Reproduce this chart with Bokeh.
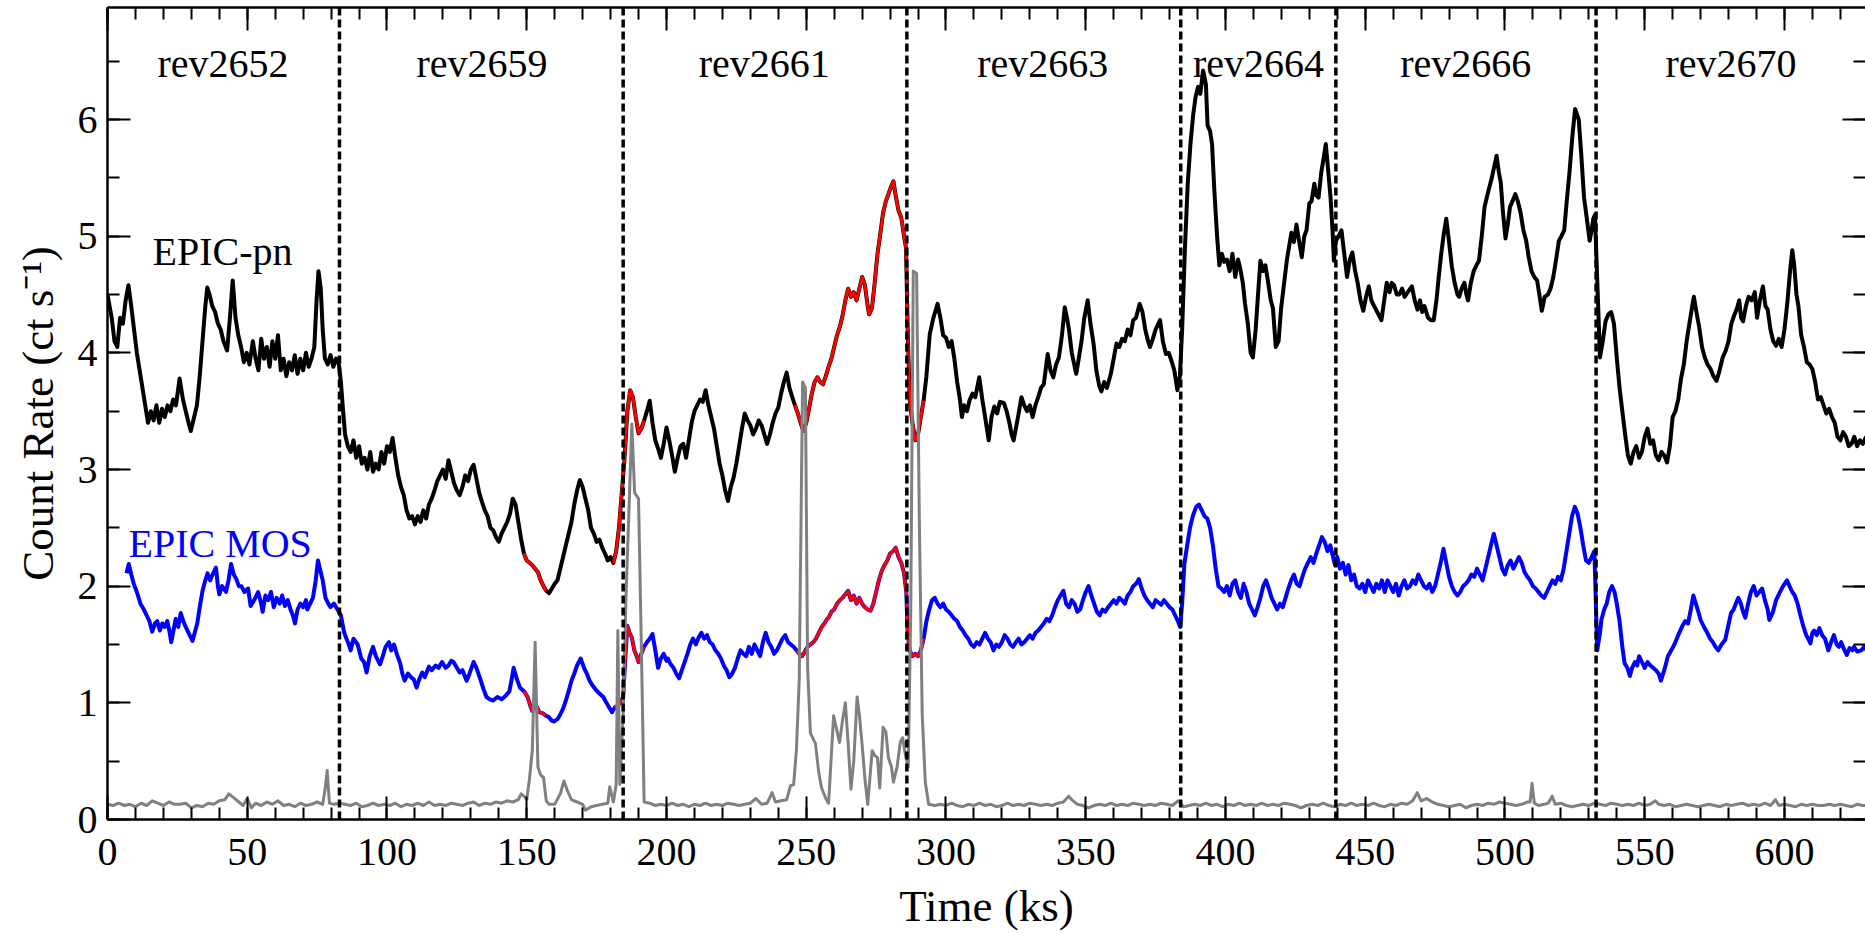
from bokeh.plotting import figure
from bokeh.models import (Range1d, LinearAxis, SingleIntervalTicker, Span, ColumnDataSource,
                          CustomJSTickFormatter)
from bokeh.embed import file_html
from bokeh.resources import INLINE
from bokeh.core.properties import value

FONT = "Liberation Serif"

# ---------------- data (time in ks, rate in ct/s) ----------------
obs_boundaries = [83.0, 184.5, 286.0, 384.0, 439.5, 532.6]
rev_names = ["rev2652", "rev2659", "rev2661", "rev2663", "rev2664", "rev2666", "rev2670"]
rev_centers = [41.3, 134.0, 235.0, 334.6, 411.8, 486.0, 580.9]
flare_intervals = [(149.0, 157.5), (181.0, 192.0), (246.0, 292.0)]

# EPIC-pn, one list of (time, rate) per observation
pn_rev2652 = [(0, 4.5), (1.5, 4.3), (2.5, 4.1), (3.5, 4.05), (4.5, 4.3), (5.5, 4.25), (6.5, 4.45), (7.5, 4.58),
              (8.5, 4.4), (9.5, 4.2), (10.5, 4.0), (11.5, 3.85), (12.5, 3.7), (13.5, 3.55), (14.5, 3.4), (15.5, 3.5),
              (16.5, 3.42), (17.5, 3.55), (18.5, 3.4), (19.5, 3.52), (20.5, 3.45), (21.5, 3.55), (22.5, 3.5),
              (23.5, 3.6), (24.5, 3.55), (25.8, 3.78), (27, 3.6), (28, 3.5), (29, 3.4), (29.8, 3.33), (31, 3.45),
              (32, 3.55), (33, 3.8), (34, 4.1), (35, 4.4), (35.7, 4.56), (36.5, 4.5), (37.5, 4.4), (38.5, 4.35),
              (39.5, 4.25), (40.5, 4.2), (41.5, 4.1), (42.8, 4.02), (43.8, 4.3), (44.8, 4.62), (45.8, 4.3),
              (46.8, 4.15), (47.8, 4.05), (48.8, 3.92), (49.8, 4.0), (50.8, 3.9), (52, 4.1), (53, 3.95), (54, 3.85),
              (55, 4.12), (56, 3.95), (57, 4.05), (58, 3.88), (59, 4.1), (60, 3.95), (61, 4.15), (62, 3.85),
              (63, 3.95), (64, 3.8), (65, 3.92), (66, 3.85), (67, 3.98), (68, 3.82), (69, 3.95), (70, 3.85),
              (71, 4.0), (72, 3.88), (73, 3.95), (74, 4.05), (74.8, 4.45), (75.5, 4.7), (76.3, 4.55), (77, 4.2),
              (77.8, 3.95), (78.8, 3.9), (79.8, 3.98), (80.8, 3.88), (81.8, 3.95), (82.8, 3.9)]
pn_rev2659 = [(83.5, 3.75), (84.3, 3.5), (85, 3.3), (86, 3.2), (87, 3.15), (88, 3.25), (89, 3.1), (90, 3.2),
              (91, 3.05), (92, 3.1), (93, 3.0), (94, 3.15), (95, 2.98), (96, 3.05), (97, 3.0), (98, 3.15),
              (99, 3.05), (100, 3.2), (101, 3.15), (102, 3.27), (103, 3.1), (104, 2.95), (105, 2.85), (106, 2.78),
              (107, 2.65), (108, 2.58), (109, 2.6), (110, 2.53), (111, 2.6), (112, 2.55), (113, 2.65), (114, 2.58),
              (115, 2.7), (116, 2.75), (117, 2.82), (118, 2.9), (119, 2.95), (120, 3.0), (121, 2.92), (122, 3.08),
              (123, 2.98), (124, 2.88), (125, 2.82), (126, 2.78), (127, 2.85), (128, 2.95), (129, 2.9), (130, 3.0),
              (131, 3.04), (132, 2.92), (133, 2.8), (134, 2.72), (135, 2.65), (136, 2.6), (137, 2.5), (138, 2.48),
              (139, 2.42), (140, 2.38), (141, 2.45), (142, 2.5), (143, 2.55), (144, 2.62), (145, 2.75), (146, 2.7),
              (147, 2.55), (148, 2.4), (149, 2.28), (150, 2.22), (151, 2.2), (152, 2.18), (153, 2.15), (154, 2.12),
              (155, 2.05), (156, 2.0), (157, 1.96), (158, 1.94), (159, 1.98), (160, 2.02), (161, 2.05), (162, 2.15),
              (163, 2.25), (164, 2.35), (165, 2.45), (166, 2.55), (167, 2.7), (168, 2.82), (169, 2.91), (170, 2.85),
              (171, 2.75), (172, 2.65), (173, 2.5), (174, 2.45), (175, 2.38), (176, 2.4), (177, 2.33), (178, 2.28),
              (179, 2.22), (180, 2.25), (181, 2.2), (182, 2.3), (183, 2.5), (184, 2.8)]
pn_rev2661 = [(185, 3.1), (186, 3.5), (187, 3.68), (188, 3.62), (189, 3.45), (190, 3.31), (191, 3.35), (192, 3.42),
              (193, 3.5), (194, 3.59), (195, 3.4), (196, 3.25), (197, 3.18), (198, 3.1), (199, 3.22), (200, 3.36),
              (201, 3.25), (202, 3.12), (203, 2.98), (204, 3.1), (205, 3.2), (206, 3.22), (207, 3.1), (208, 3.25),
              (209, 3.4), (210, 3.5), (211, 3.55), (212, 3.6), (213, 3.58), (214, 3.68), (215, 3.55), (216, 3.45),
              (217, 3.35), (218, 3.2), (219, 3.05), (220, 2.95), (221, 2.82), (222, 2.73), (223, 2.85), (224, 2.93),
              (225, 3.05), (226, 3.2), (227, 3.35), (228, 3.48), (229, 3.42), (230, 3.38), (231, 3.3), (232, 3.35),
              (233, 3.42), (234, 3.38), (235, 3.3), (236, 3.22), (237, 3.3), (238, 3.4), (239, 3.48), (240, 3.53),
              (241, 3.65), (242, 3.75), (243, 3.83), (244, 3.7), (245, 3.62), (246, 3.55), (247, 3.48), (248, 3.4),
              (249, 3.33), (250, 3.4), (251, 3.52), (252, 3.65), (253, 3.75), (254, 3.79), (255, 3.75), (256, 3.73),
              (257, 3.8), (258, 3.88), (259, 3.95), (260, 4.05), (261, 4.15), (262, 4.22), (263, 4.32), (264, 4.45),
              (265, 4.55), (266, 4.48), (267, 4.52), (268, 4.45), (269, 4.55), (270, 4.65), (271, 4.58), (272, 4.4),
              (272.5, 4.33), (273.5, 4.38), (274.5, 4.6), (275.5, 4.85), (276.5, 5.02), (277.5, 5.2), (278.5, 5.3),
              (279.4, 5.36), (280.3, 5.42), (281.2, 5.47), (282, 5.35), (283, 5.22), (284, 5.16), (285, 5.0),
              (285.7, 4.9)]
pn_rev2663 = [(286.3, 4.2), (287, 3.6), (288, 3.4), (289, 3.25), (290, 3.3), (291, 3.45), (292, 3.59), (293, 3.8),
              (294.2, 4.16), (295.5, 4.3), (297, 4.42), (298, 4.3), (299, 4.15), (300, 4.13), (301, 4.05),
              (302, 4.1), (303, 3.95), (304, 3.75), (305, 3.6), (305.7, 3.45), (306.5, 3.55), (307.5, 3.5),
              (308.4, 3.59), (309.5, 3.65), (310.5, 3.62), (311.9, 3.79), (313, 3.6), (314, 3.45), (315.3, 3.25),
              (316.3, 3.45), (317.3, 3.54), (318.3, 3.48), (319.3, 3.58), (320.7, 3.57), (321.7, 3.5), (322.7, 3.4),
              (323.5, 3.3), (324.2, 3.25), (325, 3.35), (326, 3.48), (327, 3.62), (328, 3.55), (329, 3.5),
              (330, 3.55), (331, 3.45), (332, 3.55), (333, 3.62), (334, 3.7), (335, 3.73), (336.4, 3.99),
              (337.4, 3.85), (338.4, 3.79), (339.4, 3.9), (340.4, 3.96), (341.5, 4.15), (342.5, 4.39), (343.3, 4.3),
              (344, 4.2), (345, 4.0), (346.6, 3.82), (347.5, 3.95), (348.5, 4.1), (349.5, 4.3), (350.7, 4.45),
              (351.7, 4.25), (352.8, 4.08), (353.8, 3.85), (354.8, 3.72), (355.6, 3.67), (356.6, 3.75), (357.6, 3.7),
              (359, 3.82), (360, 3.95), (361, 4.08), (362, 4.05), (363, 4.12), (364, 4.1), (365, 4.2), (366, 4.15),
              (367, 4.28), (368, 4.3), (369.3, 4.42), (370.3, 4.35), (371.3, 4.2), (372.3, 4.1), (373, 4.05),
              (374, 4.12), (375, 4.2), (376.6, 4.28), (377.6, 4.1), (378.7, 3.99), (379.7, 4.0), (380.7, 3.93),
              (381.7, 3.85), (382.8, 3.68), (383.7, 3.8)]
pn_rev2664 = [(384.5, 4.2), (385.5, 4.9), (386.5, 5.45), (387.5, 5.8), (388.5, 6.05), (389.3, 6.19), (390.2, 6.28),
              (391, 6.22), (392, 6.42), (393, 6.3), (393.6, 5.95), (394.5, 5.9), (395.2, 5.79), (396, 5.4),
              (397, 5.0), (397.8, 4.75), (398.7, 4.85), (399.5, 4.78), (400.5, 4.8), (401.5, 4.7), (402.5, 4.85),
              (403.5, 4.65), (404.5, 4.8), (405.3, 4.72), (406.2, 4.6), (407, 4.42), (408, 4.25), (409, 4.0),
              (409.8, 3.96), (410.8, 4.2), (411.8, 4.55), (412.5, 4.79), (413.5, 4.7), (414.3, 4.75), (415.3, 4.6),
              (416.2, 4.45), (417, 4.38), (418, 4.05), (419, 4.1), (419.9, 4.38), (421, 4.6), (422, 4.8),
              (423.6, 5.03), (424.5, 4.95), (425.4, 5.1), (426.4, 4.95), (427.3, 4.82), (428.2, 5.0), (429, 5.05),
              (430, 5.28), (430.8, 5.3), (431.8, 5.45), (432.5, 5.35), (433.3, 5.33), (434.3, 5.55), (435.2, 5.68),
              (435.9, 5.79), (436.8, 5.55), (437.6, 5.33), (438.3, 5.05), (438.8, 4.79), (439.5, 4.96)]
pn_rev2666 = [(440.5, 5.0), (441.5, 5.05), (442.5, 4.85), (443.5, 4.65), (444.5, 4.8), (445.4, 4.86), (446.4, 4.7),
              (447.3, 4.6), (448.3, 4.45), (449.3, 4.36), (450.3, 4.48), (451.3, 4.57), (452.2, 4.45), (453.2, 4.4),
              (454.3, 4.35), (455.8, 4.28), (456.8, 4.45), (457.7, 4.6), (458.7, 4.52), (459.5, 4.6), (460.3, 4.58),
              (461.3, 4.5), (462.2, 4.5), (463.2, 4.55), (464.1, 4.48), (465.2, 4.52), (466.7, 4.57), (467.7, 4.45),
              (468.7, 4.37), (469.6, 4.45), (470.4, 4.35), (471.2, 4.4), (472.5, 4.3), (473.5, 4.28), (474.5, 4.28),
              (475.5, 4.45), (476.3, 4.65), (477.2, 4.85), (478, 5.0), (479, 5.15), (480, 4.95), (481, 4.74),
              (482, 4.6), (483, 4.5), (483.6, 4.48), (484.5, 4.55), (485.5, 4.6), (486.2, 4.5), (486.8, 4.45),
              (487.8, 4.6), (488.8, 4.7), (489.8, 4.75), (490.7, 4.79), (491.7, 5.0), (492.7, 5.25), (494, 5.38),
              (495.3, 5.5), (496.2, 5.6), (497, 5.69), (497.8, 5.55), (498.5, 5.46), (499.3, 5.2), (500.2, 4.98),
              (501, 5.1), (501.8, 5.25), (502.7, 5.3), (503.7, 5.36), (504.6, 5.3), (505.6, 5.2), (506.6, 5.05),
              (507.6, 4.96), (508.5, 4.82), (509.5, 4.7), (510.5, 4.65), (511.5, 4.62), (512.3, 4.5), (513.2, 4.36),
              (514.2, 4.48), (515.4, 4.5), (516.3, 4.55), (517.3, 4.65), (518.3, 4.8), (519.3, 4.96), (520.2, 5.0),
              (521.2, 5.05), (522.1, 5.3), (523.1, 5.55), (524.1, 5.85), (525.1, 6.09), (526.4, 6.0), (527.3, 5.7),
              (528.3, 5.33), (529.3, 5.15), (530.3, 4.96), (531, 5.05), (531.6, 5.15), (532.2, 5.18)]
pn_rev2670 = [(533.2, 4.5), (534, 3.96), (535, 4.1), (536, 4.27), (537, 4.33), (538, 4.35), (539, 4.25), (540, 3.96),
              (541, 3.7), (542, 3.5), (543, 3.3), (544, 3.12), (545, 3.05), (546, 3.15), (547, 3.2), (548, 3.1),
              (549, 3.15), (550, 3.28), (551, 3.35), (552, 3.22), (553, 3.25), (554, 3.12), (555, 3.08), (556, 3.15),
              (557, 3.12), (558, 3.06), (559, 3.2), (560, 3.45), (561, 3.5), (562, 3.6), (563, 3.78), (564, 3.9),
              (565, 4.1), (566, 4.25), (567, 4.4), (567.6, 4.48), (568.5, 4.35), (569.5, 4.22), (570.5, 4.05),
              (571.5, 3.96), (572.5, 3.9), (573.6, 3.86), (574.6, 3.8), (575.7, 3.76), (576.8, 3.85), (577.9, 3.96),
              (579, 4.02), (580, 4.1), (581, 4.25), (582, 4.32), (583, 4.38), (583.8, 4.45), (584.5, 4.3),
              (585.2, 4.27), (586.2, 4.4), (587.2, 4.48), (588.3, 4.45), (589.4, 4.52), (590.2, 4.3), (591.2, 4.45),
              (592.3, 4.57), (593.2, 4.4), (594, 4.37), (595, 4.2), (596, 4.1), (597, 4.06), (598, 4.12), (599, 4.05),
              (600, 4.2), (601, 4.42), (602, 4.7), (602.8, 4.88), (603.5, 4.75), (604.3, 4.5), (605, 4.4),
              (606, 4.15), (607, 4.05), (608, 3.92), (609, 3.9), (610, 3.86), (611, 3.75), (612, 3.6), (613, 3.62),
              (614, 3.55), (615, 3.48), (616, 3.52), (617, 3.45), (618, 3.4), (619, 3.28), (620, 3.25), (621, 3.32),
              (622, 3.28), (623, 3.2), (624, 3.22), (625, 3.28), (626, 3.2), (627, 3.25), (628, 3.22), (629, 3.27),
              (630, 3.3)]

# EPIC MOS
mos_rev2652 = [(6.8, 2.11), (7.6, 2.19), (8.5, 2.1), (9.4, 2.02), (10.5, 1.95), (11.8, 1.85), (13, 1.8), (14.2, 1.74),
               (15, 1.7), (16, 1.61), (17, 1.68), (17.8, 1.7), (18.7, 1.62), (19.6, 1.68), (20.5, 1.65), (21.4, 1.7),
               (22.1, 1.62), (22.8, 1.52), (23.6, 1.62), (24.4, 1.72), (25.3, 1.65), (26.2, 1.77), (27.1, 1.7),
               (28, 1.65), (29, 1.6), (30.4, 1.53), (31.2, 1.6), (32.1, 1.68), (33, 1.82), (34, 1.96), (35, 2.05),
               (35.8, 2.11), (36.7, 2.05), (37.6, 2.1), (38.8, 2.16), (39.5, 2.0), (40, 1.93), (41, 2.0), (42.4, 1.95),
               (43.3, 2.05), (44.2, 2.19), (45.2, 2.1), (46.1, 2.06), (47, 2.0), (47.9, 2.0), (49, 1.95), (50.3, 1.98),
               (51.2, 1.83), (52.7, 1.89), (53.9, 1.95), (55, 1.85), (55.5, 1.78), (56.5, 1.92), (57.5, 1.88),
               (58.5, 1.95), (59.5, 1.82), (60.5, 1.9), (61.6, 1.85), (62.5, 1.92), (63.5, 1.83), (64.5, 1.88),
               (65.5, 1.8), (66.3, 1.75), (67.1, 1.68), (68, 1.8), (69, 1.85), (70, 1.82), (71, 1.88), (71.5, 1.8),
               (72.5, 1.85), (73.5, 1.9), (74.5, 2.05), (75.3, 2.22), (76, 2.15), (77, 2.05), (78, 1.9), (79, 1.85),
               (79.8, 1.82), (81, 1.85), (82.3, 1.8)]
mos_rev2659 = [(83.5, 1.75), (84.7, 1.6), (85.5, 1.55), (86.2, 1.51), (87, 1.45), (88, 1.55), (89.5, 1.5),
               (90.8, 1.38), (91.8, 1.35), (92.7, 1.26), (93.8, 1.4), (95, 1.48), (96, 1.4), (97.5, 1.33), (98.5, 1.4),
               (99.5, 1.48), (100.7, 1.52), (101.5, 1.45), (102.5, 1.5), (103.5, 1.42), (104.7, 1.34), (105.5, 1.25),
               (106.3, 1.19), (107.5, 1.25), (108.6, 1.22), (109.6, 1.2), (110.6, 1.13), (111.5, 1.2), (112.6, 1.26),
               (113.5, 1.22), (115, 1.31), (116, 1.28), (117.4, 1.32), (118.5, 1.3), (119.7, 1.35), (121, 1.3),
               (122, 1.32), (123, 1.36), (123.8, 1.35), (125, 1.3), (126, 1.26), (127, 1.28), (128.5, 1.19),
               (129.5, 1.25), (131, 1.35), (132, 1.3), (133.3, 1.21), (134.5, 1.12), (135.6, 1.05), (136.8, 1.03),
               (138, 1.02), (139.5, 1.05), (141, 1.03), (142.5, 1.06), (143.8, 1.1), (144.6, 1.2), (145.3, 1.3),
               (146.5, 1.2), (147.6, 1.13), (149, 1.1), (150.3, 1.05), (151.2, 0.98), (152, 0.93), (153, 0.99),
               (153.5, 0.97), (154.5, 0.92), (155.8, 0.91), (156.8, 0.89), (157.8, 0.88), (158.8, 0.85),
               (159.7, 0.84), (161, 0.86), (162, 0.9), (163, 0.95), (164, 1.02), (165, 1.1), (166, 1.19),
               (167, 1.25), (168, 1.32), (169.3, 1.38), (170.5, 1.3), (171.5, 1.25), (172.5, 1.19), (173.5, 1.15),
               (174.8, 1.11), (176, 1.08), (177.4, 1.05), (178.5, 1.0), (179.5, 0.96), (180.5, 0.92), (181.5, 0.96),
               (182.8, 0.98), (183.8, 1.02), (184.5, 1.05)]
mos_rev2661 = [(185.3, 1.4), (186, 1.66), (186.8, 1.6), (187.6, 1.56), (188.5, 1.45), (189.3, 1.4), (190, 1.35),
               (191, 1.42), (192, 1.48), (193, 1.52), (194, 1.55), (195, 1.59), (196, 1.45), (197, 1.3), (198, 1.38),
               (199, 1.42), (200, 1.36), (200.5, 1.38), (201.5, 1.33), (202.5, 1.3), (203.5, 1.25), (204.5, 1.21),
               (205.5, 1.28), (206.5, 1.35), (207.5, 1.42), (208.5, 1.5), (209.5, 1.55), (210.5, 1.5), (211.5, 1.56),
               (212.5, 1.6), (213.5, 1.55), (214.5, 1.58), (215.5, 1.52), (216.5, 1.5), (217.5, 1.45), (218.5, 1.42),
               (219.5, 1.38), (220.5, 1.32), (221.5, 1.28), (222.5, 1.22), (223.5, 1.25), (224.5, 1.3), (225.5, 1.38),
               (226.5, 1.45), (227.5, 1.42), (228.5, 1.4), (229.5, 1.48), (230.5, 1.42), (231.5, 1.5), (232.5, 1.45),
               (233.5, 1.4), (234.5, 1.52), (235.5, 1.6), (236.5, 1.52), (237.5, 1.48), (238.5, 1.42), (239.5, 1.45),
               (240.5, 1.5), (241.5, 1.55), (242.5, 1.58), (243.5, 1.52), (244.5, 1.5), (245.5, 1.48), (246.5, 1.45),
               (247.5, 1.42), (248.5, 1.4), (249.5, 1.44), (250.5, 1.48), (251.5, 1.5), (252.5, 1.52), (253.5, 1.55),
               (254.5, 1.6), (255.5, 1.65), (256.5, 1.68), (257.5, 1.72), (258, 1.73), (259, 1.78), (260, 1.8),
               (261, 1.85), (262, 1.88), (263, 1.9), (264, 1.93), (265, 1.96), (266, 1.88), (267, 1.92), (268, 1.85),
               (269, 1.9), (270, 1.85), (271, 1.82), (272, 1.8), (273, 1.79), (274, 1.85), (275, 1.95), (276, 2.05),
               (277, 2.13), (278, 2.18), (279, 2.22), (280, 2.28), (281, 2.3), (282, 2.33), (283, 2.25), (284, 2.2),
               (285, 2.11), (285.8, 1.95)]
mos_rev2663 = [(286.3, 1.6), (287, 1.45), (288, 1.4), (289, 1.42), (290, 1.4), (291, 1.45), (292, 1.55), (293, 1.7),
               (294, 1.8), (295, 1.88), (296, 1.9), (297, 1.85), (298, 1.82), (299, 1.85), (300, 1.8), (301, 1.78),
               (302, 1.75), (303, 1.72), (304, 1.7), (305, 1.65), (306, 1.62), (307, 1.58), (308, 1.55), (309, 1.5),
               (310, 1.48), (311, 1.52), (312, 1.5), (313, 1.55), (314, 1.6), (315, 1.55), (316, 1.52), (317, 1.45),
               (318, 1.5), (319, 1.48), (320, 1.52), (321, 1.58), (322, 1.55), (323, 1.5), (324, 1.48), (325, 1.52),
               (326, 1.55), (327, 1.5), (328, 1.52), (329, 1.55), (330, 1.58), (331, 1.55), (332, 1.6), (333, 1.62),
               (334, 1.65), (335, 1.68), (336, 1.72), (337, 1.7), (338, 1.75), (339, 1.82), (340, 1.88), (341, 1.92),
               (342, 1.96), (343, 1.85), (344, 1.82), (345, 1.88), (346, 1.85), (347, 1.78), (348, 1.8), (349, 1.88),
               (350, 1.95), (351, 2.0), (352, 1.92), (353, 1.85), (354, 1.78), (355, 1.75), (356, 1.8), (357, 1.78),
               (358, 1.82), (359, 1.85), (360, 1.88), (361, 1.85), (362, 1.9), (363, 1.88), (364, 1.85), (365, 1.92),
               (366, 1.95), (367, 2.0), (368, 2.02), (369, 2.06), (370, 1.98), (371, 1.92), (372, 1.88), (373, 1.85),
               (374, 1.82), (375, 1.88), (376, 1.86), (377, 1.84), (378, 1.88), (379, 1.85), (380, 1.82), (381, 1.8),
               (382, 1.75), (383, 1.7), (383.8, 1.65)]
mos_rev2664 = [(384.5, 1.85), (385.3, 2.19), (386.3, 2.35), (387.3, 2.5), (388.3, 2.6), (389.5, 2.68), (390.5, 2.7),
               (391.5, 2.65), (392.5, 2.6), (393.5, 2.58), (394.5, 2.5), (395.5, 2.35), (396.5, 2.15), (397.5, 2.0),
               (398.5, 1.98), (399.5, 1.95), (400.5, 2.0), (401.5, 1.92), (402.5, 2.02), (403.5, 2.05), (404.5, 1.95),
               (405.5, 1.9), (406.5, 2.02), (407.5, 1.95), (408.5, 1.85), (409.5, 1.8), (410.5, 1.75), (411.5, 1.82),
               (412.5, 1.9), (413.5, 2.0), (414.5, 2.05), (415.5, 1.98), (416.5, 1.9), (417.5, 1.85), (418.5, 1.8),
               (419.5, 1.85), (420.5, 1.82), (421.5, 1.9), (422.5, 1.98), (423.5, 2.05), (424.5, 2.1), (425.5, 2.02),
               (426.5, 2.0), (427.5, 2.08), (428.5, 2.15), (429.5, 2.2), (430.5, 2.25), (431.5, 2.2), (432.5, 2.28),
               (433.5, 2.35), (434.5, 2.42), (435.5, 2.38), (436.5, 2.3), (437.5, 2.35), (438.5, 2.25), (439.2, 2.18)]
mos_rev2666 = [(440, 2.25), (441, 2.15), (442, 2.2), (443, 2.1), (444, 2.18), (445, 2.05), (446, 2.1), (447, 2.0),
               (448, 1.98), (449, 2.02), (450, 1.95), (451, 2.05), (452, 2.0), (453, 1.95), (454, 2.02), (455, 1.98),
               (456, 2.05), (457, 1.95), (458, 2.05), (459, 2.0), (460, 1.95), (461, 2.02), (462, 1.92), (463, 2.0),
               (464, 2.05), (465, 1.98), (466, 2.0), (467, 2.05), (468, 2.02), (469, 2.1), (470, 2.05), (471, 2.0),
               (472, 1.98), (473, 2.02), (474, 1.95), (475, 2.0), (476, 2.1), (477, 2.2), (478, 2.32), (479, 2.2),
               (480, 2.08), (481, 2.0), (482, 1.95), (483, 1.92), (484, 1.95), (485, 2.0), (486, 2.02), (487, 2.05),
               (488, 2.1), (489, 2.08), (490, 2.15), (491, 2.1), (492, 2.05), (493, 2.15), (494, 2.25), (495, 2.35),
               (496, 2.45), (497, 2.35), (498, 2.25), (499, 2.15), (500, 2.1), (501, 2.18), (502, 2.22), (503, 2.15),
               (504, 2.2), (505, 2.25), (506, 2.2), (507, 2.12), (508, 2.08), (509, 2.05), (510, 2.0), (511, 1.98),
               (512, 1.95), (513, 1.92), (514, 1.9), (515, 1.95), (516, 2.0), (517, 2.05), (518, 2.02), (519, 2.08),
               (520, 2.05), (521, 2.15), (522, 2.3), (523, 2.45), (524, 2.6), (525, 2.68), (526, 2.62), (527, 2.5),
               (528, 2.35), (529, 2.22), (530, 2.2), (531, 2.25), (532, 2.3)]
mos_rev2670 = [(533, 1.45), (534, 1.6), (534.5, 1.71), (535.5, 1.8), (536.4, 1.85), (537.3, 1.95), (538.3, 2.0),
               (539.2, 1.95), (540, 1.85), (541, 1.7), (542, 1.48), (542.8, 1.34), (543.8, 1.3), (544.7, 1.23),
               (545.5, 1.3), (546.5, 1.35), (547.3, 1.32), (548, 1.4), (549, 1.35), (550, 1.3), (551, 1.35),
               (552, 1.32), (553, 1.3), (554, 1.28), (555, 1.25), (555.8, 1.19), (557, 1.28), (558.3, 1.4),
               (559.5, 1.45), (560.8, 1.51), (562, 1.58), (563.5, 1.66), (564.5, 1.7), (565.5, 1.68), (566.5, 1.8),
               (567.4, 1.92), (568.3, 1.85), (569.2, 1.78), (570, 1.71), (571.2, 1.65), (572.4, 1.6), (573.4, 1.55),
               (574.4, 1.52), (575.3, 1.48), (576.3, 1.45), (577.5, 1.5), (578.8, 1.54), (579.8, 1.65), (580.9, 1.77),
               (581.8, 1.8), (582.6, 1.85), (583.5, 1.9), (584.4, 1.85), (585.2, 1.78), (586, 1.73), (587, 1.85),
               (588, 1.95), (589, 2.0), (590, 1.92), (591, 1.95), (592, 1.98), (593, 1.88), (594, 1.8), (594.6, 1.71),
               (595.9, 1.78), (597, 1.88), (598.4, 1.95), (599.5, 2.0), (600.9, 2.05), (601.8, 2.0), (602.8, 1.95),
               (603.7, 1.92), (604.7, 1.85), (605.7, 1.75), (606.7, 1.66), (607.8, 1.58), (608.5, 1.55),
               (609.3, 1.51), (610, 1.6), (610.6, 1.62), (611.5, 1.58), (612.5, 1.64), (613.5, 1.58), (614.5, 1.55),
               (615.7, 1.45), (616.7, 1.52), (617.7, 1.58), (618.7, 1.5), (619.5, 1.48), (620.3, 1.52), (621.3, 1.46),
               (622.3, 1.41), (623.3, 1.47), (624.3, 1.45), (624.9, 1.48), (626, 1.44), (627.5, 1.45), (628.5, 1.48),
               (629.5, 1.45)]

# background (grey)
bkg_points = [(0, 0.13), (2, 0.12), (4, 0.14), (6, 0.12), (8, 0.13), (10, 0.11), (12, 0.14), (14, 0.12), (16, 0.16),
              (18, 0.14), (20, 0.12), (22, 0.15), (24, 0.13), (26, 0.13), (28, 0.14), (30, 0.1), (32, 0.12),
              (34, 0.11), (36, 0.14), (38, 0.13), (40, 0.16), (42, 0.17), (43.4, 0.22), (45, 0.19), (47, 0.15),
              (48.5, 0.12), (50, 0.18), (51.5, 0.1), (53, 0.14), (55, 0.12), (57, 0.15), (59, 0.13), (61, 0.16),
              (63, 0.12), (65, 0.13), (67, 0.11), (69, 0.14), (71, 0.12), (73, 0.13), (75, 0.15), (77, 0.13),
              (77.8, 0.25), (78.6, 0.42), (79.4, 0.14), (81, 0.13), (83, 0.14), (85, 0.13), (87, 0.12), (89, 0.14),
              (91, 0.11), (93, 0.12), (95, 0.14), (97, 0.12), (99, 0.13), (101, 0.12), (103, 0.14), (105, 0.11),
              (107, 0.13), (109, 0.12), (111, 0.14), (113, 0.12), (115, 0.15), (117, 0.12), (119, 0.13), (121, 0.12),
              (123, 0.14), (125, 0.13), (127, 0.12), (129, 0.14), (131, 0.15), (133, 0.12), (135, 0.14), (137, 0.13),
              (139, 0.15), (141, 0.14), (143, 0.16), (145, 0.15), (147, 0.17), (148, 0.22), (149, 0.2), (150, 0.17),
              (151, 0.35), (152, 0.6), (153, 1.52), (154, 0.45), (155, 0.38), (156, 0.36), (157, 0.16), (158, 0.13),
              (160, 0.13), (162, 0.22), (163.3, 0.33), (164.5, 0.25), (166, 0.17), (168, 0.15), (170, 0.13),
              (171, 0.08), (173, 0.11), (175, 0.12), (177, 0.13), (179, 0.14), (179.7, 0.28), (181, 0.15), (182, 0.3),
              (182.6, 1.62), (183.3, 0.3), (184.5, 0.9), (185.5, 1.9), (186.5, 2.6), (187.6, 3.39), (188.6, 2.8),
              (190, 2.75), (191, 1.5), (192, 0.15), (194, 0.14), (196, 0.12), (198, 0.13), (200, 0.12), (202, 0.14),
              (204, 0.12), (206, 0.13), (208, 0.11), (210, 0.13), (212, 0.12), (214, 0.14), (216, 0.12), (218, 0.13),
              (220, 0.12), (222, 0.14), (224, 0.13), (226, 0.12), (228, 0.13), (230, 0.14), (232, 0.18), (234, 0.13),
              (236, 0.14), (237.8, 0.23), (239, 0.15), (241, 0.16), (243, 0.17), (244.4, 0.29), (245.5, 0.3),
              (246.5, 0.6), (247.5, 1.2), (248.7, 3.75), (249.7, 3.7), (250.5, 1.3), (251.5, 0.74), (253.3, 0.65),
              (254.5, 0.4), (255.5, 0.27), (257, 0.18), (258, 0.14), (259.8, 0.89), (261.9, 0.66), (263, 0.85),
              (264, 1.0), (265, 0.65), (266, 0.26), (267, 0.5), (268.2, 1.05), (269, 0.9), (270, 0.64), (271, 0.35),
              (272, 0.13), (273.6, 0.59), (274.5, 0.55), (275.5, 0.53), (276.3, 0.27), (277.5, 0.79), (278.5, 0.75),
              (279.4, 0.53), (280.5, 0.45), (281.2, 0.32), (282.5, 0.45), (283.7, 0.67), (284.5, 0.7), (285.5, 0.55),
              (286.5, 0.45), (287.4, 1.8), (288.3, 4.7), (289.5, 4.68), (290.5, 2.5), (291.5, 0.9), (292.6, 0.32),
              (293.8, 0.13), (296, 0.12), (298, 0.13), (300, 0.12), (302, 0.14), (304, 0.12), (306, 0.11),
              (308, 0.13), (310, 0.12), (312, 0.14), (314, 0.12), (316, 0.13), (318, 0.11), (320, 0.12), (322, 0.14),
              (324, 0.12), (326, 0.13), (328, 0.12), (330, 0.14), (332, 0.13), (334, 0.12), (336, 0.13), (338, 0.12),
              (340, 0.14), (342, 0.15), (343.9, 0.2), (345, 0.17), (347, 0.13), (349, 0.12), (351, 0.1), (353, 0.12),
              (355, 0.13), (357, 0.12), (359, 0.14), (361, 0.12), (363, 0.13), (365, 0.12), (367, 0.14), (369, 0.13),
              (371, 0.12), (373, 0.13), (375, 0.12), (377, 0.14), (379, 0.13), (381, 0.12), (383, 0.16), (385, 0.11),
              (387, 0.12), (389, 0.13), (391, 0.12), (393, 0.14), (395, 0.12), (397, 0.13), (399, 0.11), (401, 0.13),
              (403, 0.12), (405, 0.14), (407, 0.12), (409, 0.13), (411, 0.12), (413, 0.14), (415, 0.12), (417, 0.13),
              (419, 0.12), (421, 0.14), (423, 0.13), (425, 0.12), (427, 0.1), (429, 0.12), (431, 0.13), (433, 0.12),
              (435, 0.14), (437, 0.12), (439, 0.11), (441, 0.13), (443, 0.12), (445, 0.14), (447, 0.12), (449, 0.13),
              (451, 0.12), (453, 0.14), (455, 0.12), (457, 0.11), (459, 0.13), (461, 0.12), (463, 0.14), (465, 0.13),
              (467, 0.16), (468.6, 0.23), (470, 0.16), (472, 0.18), (474, 0.15), (476, 0.13), (478, 0.12),
              (480, 0.11), (482, 0.12), (484, 0.13), (486, 0.1), (488, 0.12), (490, 0.13), (492, 0.12), (494, 0.14),
              (496, 0.13), (498, 0.15), (500, 0.14), (502, 0.13), (504, 0.12), (506, 0.13), (508, 0.15), (509, 0.15),
              (509.7, 0.31), (510.5, 0.14), (512, 0.12), (514, 0.13), (515.5, 0.14), (516.9, 0.2), (518, 0.13),
              (520, 0.14), (522, 0.12), (524, 0.11), (526, 0.12), (528, 0.13), (530, 0.12), (532, 0.14), (534, 0.13),
              (536, 0.12), (538, 0.14), (540, 0.13), (542, 0.12), (544, 0.13), (546, 0.12), (548, 0.14), (550, 0.12),
              (552, 0.13), (553.8, 0.16), (555, 0.13), (557, 0.12), (559, 0.13), (561, 0.11), (563, 0.12),
              (565, 0.13), (567, 0.12), (569, 0.11), (571, 0.12), (573, 0.13), (575, 0.12), (577, 0.11), (579, 0.13),
              (581, 0.12), (583, 0.13), (585, 0.14), (587, 0.12), (589, 0.13), (591, 0.12), (593, 0.14), (595, 0.12),
              (596.8, 0.17), (598, 0.12), (600, 0.13), (602, 0.12), (604, 0.11), (606, 0.13), (608, 0.12),
              (610, 0.13), (612, 0.12), (614, 0.12), (616, 0.13), (618, 0.12), (620, 0.13), (622, 0.12), (624, 0.11),
              (626, 0.13), (628, 0.12), (630, 0.12)]

pn_obs = [pn_rev2652, pn_rev2659, pn_rev2661, pn_rev2663, pn_rev2664, pn_rev2666, pn_rev2670]
mos_obs = [mos_rev2652, mos_rev2659, mos_rev2661, mos_rev2663, mos_rev2664, mos_rev2666, mos_rev2670]


def join(obs):
    t, v = [], []
    for seg in obs:
        for a, b in seg:
            t.append(a)
            v.append(b)
    return t, v


def flare_parts(t, v, intervals):
    xs, ys = [], []
    for a, b in intervals:
        idx = [i for i, tt in enumerate(t) if a <= tt <= b]
        if idx:
            xs.append([t[i] for i in idx])
            ys.append([v[i] for i in idx])
    return xs, ys


pn_time, pn_rate = join(pn_obs)
mos_time, mos_rate = join(mos_obs)
bkg_time, bkg_rate = join([bkg_points])

# ---------------- figure ----------------
X_END = 629.0
Y_END = 6.96

p = figure(width=1865, height=933, x_range=Range1d(0, X_END), y_range=Range1d(0, Y_END),
           x_axis_type=None, y_axis_type=None,
           output_backend="svg", toolbar_location=None,
           min_border_left=107, min_border_right=0, min_border_top=7, min_border_bottom=114)
p.grid.visible = False
p.outline_line_color = None
p.background_fill_color = "white"
p.border_fill_color = "white"

xt = SingleIntervalTicker(interval=50, num_minor_ticks=5)
yt = SingleIntervalTicker(interval=1, num_minor_ticks=2)

bottom = LinearAxis(ticker=xt, axis_label="Time (ks)")
left = LinearAxis(ticker=yt, axis_label="Count Rate (ct s\u207B\u00B9)")
top = LinearAxis(ticker=xt)
right = LinearAxis(ticker=yt)
p.add_layout(bottom, "below")
p.add_layout(left, "left")
p.add_layout(top, "above")
p.add_layout(right, "right")

for ax in [bottom, left, top, right]:
    ax.axis_line_width = 2.5
    ax.axis_line_color = "black"
    ax.major_tick_line_width = 2
    ax.minor_tick_line_width = 2
    ax.major_tick_in = 23
    ax.major_tick_out = 0
    ax.minor_tick_in = 12
    ax.minor_tick_out = 0
    ax.major_label_text_font = FONT
    ax.major_label_text_font_size = "40px"
    ax.major_label_text_color = "black"

blank = CustomJSTickFormatter(code="return ''")
for ax in [top, right]:
    ax.formatter = blank
    ax.major_label_text_font_size = "0px"
    ax.major_label_standoff = 0
right.axis_line_color = None

bottom.major_label_standoff = 19
left.major_label_standoff = 10
for ax in [bottom, left]:
    ax.axis_label_text_font = FONT
    ax.axis_label_text_font_size = "45px"
    ax.axis_label_text_font_style = "normal"
    ax.axis_label_text_color = "black"
bottom.axis_label_standoff = 13
left.axis_label_standoff = 12

# observation boundaries
for b in obs_boundaries:
    p.add_layout(Span(location=b, dimension="height", line_color="black",
                      line_width=3.5, line_dash="8 4"))

# light curves
p.line(pn_time, pn_rate, line_color="black", line_width=4, line_join="round")
p.line(mos_time, mos_rate, line_color="#0000ff", line_width=4, line_join="round")
fx, fy = flare_parts(pn_time, pn_rate, flare_intervals)
p.multi_line(fx, fy, line_color="#ff0000", line_width=3, line_join="round")
fx, fy = flare_parts(mos_time, mos_rate, flare_intervals)
p.multi_line(fx, fy, line_color="#ff0000", line_width=3, line_join="round")
p.line(bkg_time, bkg_rate, line_color="#808080", line_width=3, line_join="round")

# texts
src = ColumnDataSource(dict(x=rev_centers, y=[6.48] * len(rev_centers), text=rev_names))
p.text(x="x", y="y", text="text", source=src, text_font=value(FONT), text_font_size="40px",
       text_align="center", text_baseline="alphabetic", text_color="black")
p.text(x=[16.1], y=[4.87], text=["EPIC-pn"], text_font=value(FONT), text_font_size="40px",
       text_align="left", text_baseline="alphabetic", text_color="black")
p.text(x=[7.5], y=[2.37], text=["EPIC MOS"], text_font=value(FONT), text_font_size="40px",
       text_align="left", text_baseline="alphabetic", text_color="#0000ff")

open("out.html", "w").write(file_html(p, INLINE))
